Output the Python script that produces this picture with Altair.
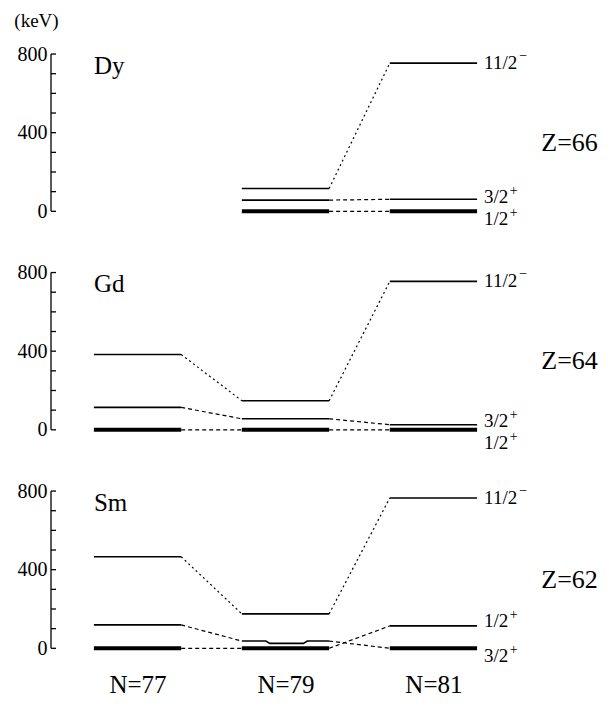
import altair as alt
import pandas as pd

# ---------------- data ----------------
ELEMENTS = ["Dy", "Gd", "Sm"]
Z_LABELS = ["Z=66", "Z=64", "Z=62"]
N_VALUES = [77, 79, 81]
STATES = ["11/2-", "3/2+", "1/2+"]

# level energies (keV) at N = 77, 79, 81 ; None = not shown
DY_11 = [None, 116, 754]
DY_3 = [None, 57, 61]
DY_1 = [None, 0, 0]
GD_11 = [383, 148, 755]
GD_3 = [114, 56, 26]
GD_1 = [0, 0, 0]
SM_11 = [466, 175, 765]
SM_3 = [119, 37, 0]
SM_1 = [0, 0, 114]
SM_N79_DIP = 25   # the Sm N=79 3/2+ level dips to this energy in its middle

Y_TICKS = [0, 400, 800]
MINOR_TICKS = [0, 100, 200, 300, 400, 500, 600, 700, 800]
AXIS_RANGE = [0, 800]
ELEM_Y = 740
Z_Y = 350

PANEL_DATA = {
    "Dy": {"11/2-": DY_11, "3/2+": DY_3, "1/2+": DY_1},
    "Gd": {"11/2-": GD_11, "3/2+": GD_3, "1/2+": GD_1},
    "Sm": {"11/2-": SM_11, "3/2+": SM_3, "1/2+": SM_1},
}

# ---------------- styling ----------------
FONT = "Times New Roman, Liberation Serif, serif"
HALF = 0.59                 # half width of a level line (N units)
XDOM = [75.83, 83.13]
YDOM = [-90, 902]
W, H = 540, 195
Z_X = 82.84
LABEL_DY = {
    ("Dy", "11/2-"): 0, ("Dy", "3/2+"): -2, ("Dy", "1/2+"): 8,
    ("Gd", "11/2-"): 0, ("Gd", "3/2+"): -4, ("Gd", "1/2+"): 13,
    ("Sm", "11/2-"): 0, ("Sm", "3/2+"): 8, ("Sm", "1/2+"): -5,
}
DIP_SHAPE = [-1.0, -0.45, -0.36, 0.41, 0.50, 1.0]
LBL_FS = 19
SUP_FS = 14
CHAR_W = {"1": 0.5, "2": 0.5, "3": 0.5, "/": 0.278}


def panel(idx, elem):
    states = PANEL_DATA[elem]
    levels, conns = [], []
    for st in STATES:
        vals = states[st]
        for j, n in enumerate(N_VALUES):
            e = vals[j]
            if e is None:
                continue
            if elem == "Sm" and st == "3/2+" and n == 79:
                continue  # drawn separately (with the dip)
            levels.append({"N": n, "x1": n - HALF, "x2": n + HALF, "E": e,
                           "thick": e == 0})
        for j in range(len(N_VALUES) - 1):
            a, b = vals[j], vals[j + 1]
            if a is None or b is None:
                continue
            conns.append({"xa": N_VALUES[j] + HALF, "xb": N_VALUES[j + 1] - HALF,
                          "ya": a, "yb": b,
                          "style": "dot" if st == "11/2-" else "dash"})
    lev = pd.DataFrame(levels)
    con = pd.DataFrame(conns)

    yaxis = alt.Axis(values=Y_TICKS, domain=False, ticks=False, grid=False,
                     labelPadding=4, labelFontSize=20, labelFont=FONT,
                     labelColor="black",
                     title="(keV)" if idx == 0 else None,
                     **({"titleAngle": 0, "titleX": -15, "titleY": -14,
                         "titleAlign": "center", "titleBaseline": "middle",
                         "titleFontSize": 19, "titleFontWeight": "normal",
                         "titleFont": FONT, "titleColor": "black"} if idx == 0 else {}))
    if idx == 2:
        xaxis = alt.Axis(values=N_VALUES, labelExpr="'N=' + datum.value",
                         domain=False, ticks=False, grid=False, title=None,
                         labelFontSize=25, labelFont=FONT, labelPadding=6,
                         labelColor="black")
    else:
        xaxis = None

    def X(f):
        return alt.X(f, type="quantitative", scale=alt.Scale(domain=XDOM, nice=False, zero=False),
                     axis=xaxis)

    def Y(f):
        return alt.Y(f, type="quantitative", scale=alt.Scale(domain=YDOM, nice=False, zero=False),
                     axis=yaxis)

    layers = []
    # axis line and inward ticks
    layers.append(alt.Chart(pd.DataFrame({"lo": [AXIS_RANGE[0]], "hi": [AXIS_RANGE[1]]}))
                  .mark_rule(color="black", strokeWidth=1.3)
                  .encode(x=alt.value(0), y=Y("lo"), y2="hi"))
    layers.append(alt.Chart(pd.DataFrame({"v": MINOR_TICKS}))
                  .mark_rule(color="black", strokeWidth=1.3)
                  .encode(x=alt.value(0), x2=alt.value(5), y=Y("v")))
    # connections
    for style, dash in (("dot", [2, 3]), ("dash", [4, 3])):
        sub = con[con["style"] == style]
        if len(sub):
            layers.append(alt.Chart(sub).mark_rule(color="black", strokeWidth=1.2, strokeDash=dash)
                          .encode(x=X("xa"), x2="xb", y=Y("ya"), y2="yb"))
    # levels
    thin = lev[~lev["thick"]]
    thick = lev[lev["thick"]]
    layers.append(alt.Chart(thin).mark_rule(color="black", strokeWidth=1.6)
                  .encode(x=X("x1"), x2="x2", y=Y("E")))
    layers.append(alt.Chart(thick).mark_rule(color="black", strokeWidth=4)
                  .encode(x=X("x1"), x2="x2", y=Y("E")))
    if elem == "Sm":
        hi_e, lo_e = SM_3[1], SM_N79_DIP
        ys = [hi_e, hi_e, lo_e, lo_e, hi_e, hi_e]
        dip = pd.DataFrame({"x": [79 + f * HALF for f in DIP_SHAPE], "E": ys,
                            "o": list(range(6))})
        layers.append(alt.Chart(dip).mark_line(color="black", strokeWidth=1.6)
                      .encode(x=X("x"), y=Y("E"), order="o"))
    # level labels at N=81
    lab_rows = []
    for st in STATES:
        e = states[st][2]
        main, sup = st[:-1], st[-1]
        w = sum(CHAR_W[c] for c in main) * LBL_FS
        lab_rows.append({"x": 81 + HALF, "E": e, "main": main,
                         "sup": "\u2212" if sup == "-" else "+",
                         "dy": LABEL_DY[(elem, st)], "dxs": 7 + w + 1.5,
                         "supdy": LABEL_DY[(elem, st)] - (7 if sup == "-" else 6)})
    labs = pd.DataFrame(lab_rows)
    for _, r in labs.iterrows():
        one = pd.DataFrame([r])
        layers.append(alt.Chart(one).mark_text(align="left", baseline="middle", dx=7,
                                               dy=float(r["dy"]), font=FONT,
                                               fontSize=LBL_FS, color="black")
                      .encode(x=X("x"), y=Y("E"), text="main:N"))
        layers.append(alt.Chart(one).mark_text(align="left", baseline="middle",
                                               dx=float(r["dxs"]), dy=float(r["supdy"]),
                                               font=FONT, fontSize=SUP_FS, color="black")
                      .encode(x=X("x"), y=Y("E"), text="sup:N"))
    # element name and Z label
    layers.append(alt.Chart(pd.DataFrame({"x": [77 - HALF], "E": [ELEM_Y], "t": [elem]}))
                  .mark_text(align="left", baseline="middle", font=FONT, fontSize=25, color="black")
                  .encode(x=X("x"), y=Y("E"), text="t:N"))
    layers.append(alt.Chart(pd.DataFrame({"x": [Z_X], "E": [Z_Y], "t": [Z_LABELS[idx]]}))
                  .mark_text(align="center", baseline="middle", font=FONT, fontSize=26, color="black")
                  .encode(x=X("x"), y=Y("E"), text="t:N"))
    return alt.layer(*layers).properties(width=W, height=H)


chart = alt.vconcat(*[panel(i, e) for i, e in enumerate(ELEMENTS)],
                    spacing=23.5, bounds="flush").properties(
    padding={"left": 5, "top": 3, "right": 0, "bottom": 5}
).configure_view(stroke=None)

chart.save("out.html", embed_options={"renderer": "svg", "actions": False})
